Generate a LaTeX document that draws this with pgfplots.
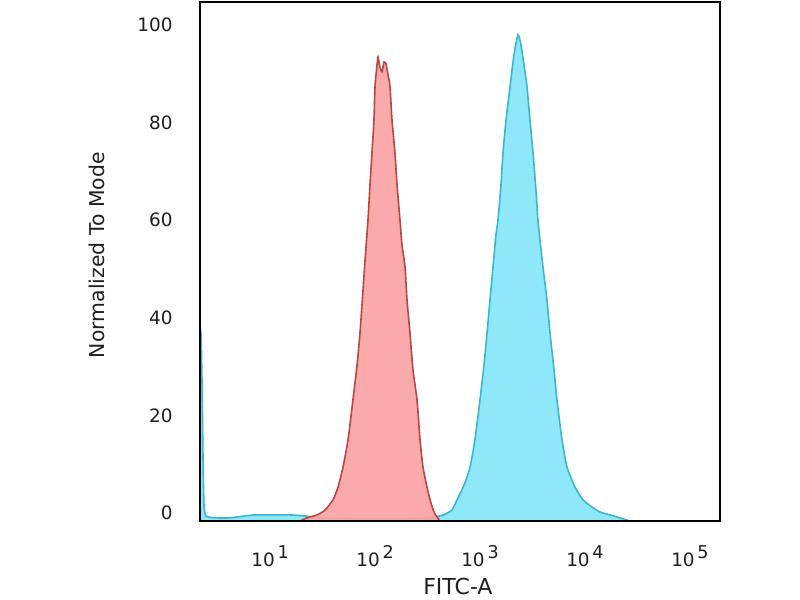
\documentclass[border=0pt]{standalone}
\usepackage{fontspec}
\setmainfont{DejaVu Sans}
\usepackage{pgfplots}
\pgfplotsset{compat=1.18}
\definecolor{redfill}{RGB}{250,163,163}
\definecolor{redline}{RGB}{185,70,70}
\definecolor{cyanfill}{RGB}{142,232,250}
\definecolor{cyanline}{RGB}{60,182,204}
\definecolor{txt}{RGB}{30,30,30}
\newcommand{\dec}[1]{10\hspace{1.4pt}\raisebox{4pt}{\fontsize{8.8}{8.8}\selectfont #1}}
\begin{document}
\begin{tikzpicture}
\path[use as bounding box] (0,0) rectangle (400pt,300pt);
\begin{axis}[
  scale only axis,
  width=260pt, height=259.5pt,
  at={(100pt,39.5pt)}, anchor=south west,
  xmin=0.333, xmax=5.286,
  ymin=-1.64, ymax=104.7,
  axis line style={black, line width=1pt},
  major tick length=0pt,
  xtick={1,2,3,4,5},
  xticklabels={\dec{1},\dec{2},\dec{3},\dec{4},\dec{5}},
  ytick={0,20,40,60,80,100},
  /pgf/number format/assume math mode=true,
  tick label style={font=\fontsize{9.2}{9.2}\selectfont, text=txt},
  xticklabel style={anchor=north, inner sep=0pt, yshift=-12pt},
  yticklabel style={anchor=east, inner sep=0pt, xshift=-13.5pt},
  xlabel={FITC-A},
  ylabel={Normalized To Mode},
  xlabel style={font=\fontsize{11}{11}\selectfont, text=txt, at={(axis description cs:0.496,0)}, anchor=base, yshift=-36.8pt},
  ylabel style={font=\fontsize{10.2}{10.2}\selectfont, text=txt, at={(axis description cs:-0.1827,0.512)}, anchor=base},
  clip=true,
  axis on top,
]
\addplot[draw=cyanline, fill=cyanfill, line width=0.8pt, smooth, tension=0.35] coordinates {
(0.333,-1.64) (0.333,35.5) (0.343,36.5) (0.352,27.3) (0.362,10.9) (0.371,1.6)
(0.39,-0.6) (0.476,-1.0) (0.619,-1.0) (0.762,-0.6) (0.857,-0.4) (1.0,-0.4)
(1.19,-0.4) (1.333,-0.6) (1.476,-1.0) (1.857,-1.2) (2.238,-1.2) (2.524,-1.0)
(2.648,-0.4) (2.733,0.6) (2.781,2.7) (2.848,5.7) (2.905,9.4) (2.952,15.0)
(3.0,23.2) (3.038,30.3) (3.067,36.9) (3.095,43.6) (3.124,50.4) (3.152,57.0)
(3.171,60.0) (3.2,67.2) (3.219,73.8) (3.248,80.5) (3.286,87.3) (3.324,93.9)
(3.362,98.0) (3.390,95.9) (3.419,91.8) (3.448,87.3) (3.476,80.5) (3.505,73.8)
(3.533,66.2) (3.552,60.0) (3.581,53.9) (3.6,50.4) (3.638,43.6) (3.667,36.9)
(3.705,29.3) (3.733,23.2) (3.781,15.0) (3.829,9.4) (3.905,5.3) (3.981,2.7)
(4.067,1.2) (4.143,0.2) (4.238,-0.4) (4.333,-1.0) (4.429,-1.64)
};
\addplot[draw=redline, fill=redfill, fill opacity=0.92, line width=0.8pt, smooth, tension=0.35] coordinates {
(1.286,-1.64) (1.352,-1.0) (1.448,-0.4) (1.524,0.6) (1.6,2.7) (1.648,5.3)
(1.695,9.4) (1.743,15.0) (1.790,23.2) (1.829,30.3) (1.857,36.9) (1.886,45.7)
(1.905,51.8) (1.933,60.0) (1.952,67.2) (1.971,73.8) (1.99,80.5) (2.0,87.3)
(2.019,91.8) (2.029,93.4) (2.048,91.2) (2.067,90.4) (2.086,92.4) (2.105,92.0)
(2.124,89.8) (2.143,87.3) (2.162,80.5) (2.19,73.8) (2.21,67.2) (2.238,60.0)
(2.257,54.9) (2.286,50.4) (2.305,43.6) (2.333,36.9) (2.362,29.3) (2.4,23.2)
(2.429,15.0) (2.457,9.4) (2.495,5.3) (2.524,2.7) (2.562,0.2) (2.59,-0.8)
(2.619,-1.64)
};
\end{axis}
\end{tikzpicture}
\end{document}
